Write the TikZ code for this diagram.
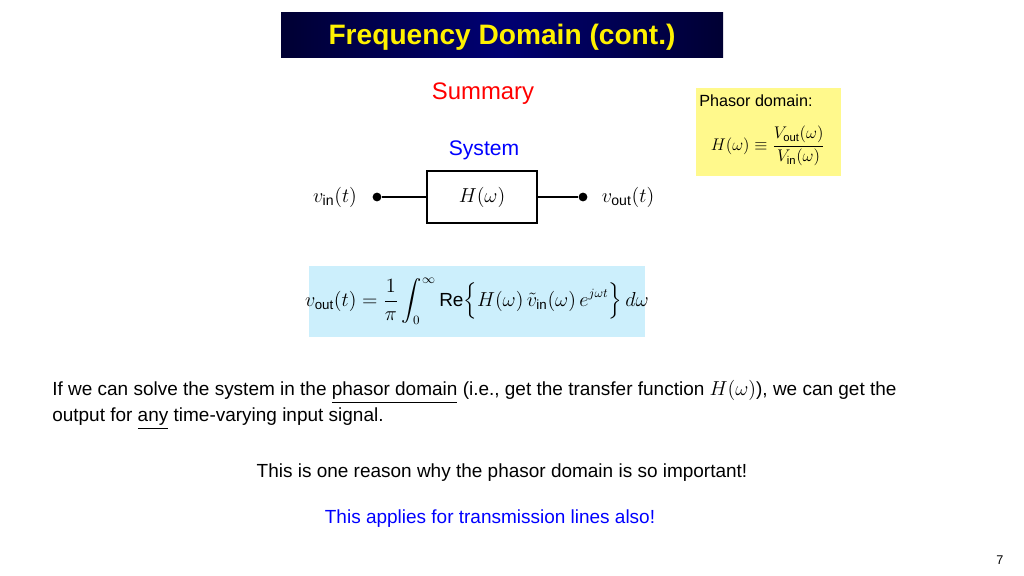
\documentclass[tikz,border=0pt]{standalone}
\usepackage{fontspec}
\setmainfont{Liberation Sans}
\usepackage{amsmath}
\begin{document}
\begin{tikzpicture}[x=0.025cm, y=-0.025cm, font=\fontsize{13.5}{16}\selectfont]
		\tikzset{box/.style={draw, thick, minimum width=2.75cm, minimum height=1.3cm},
			dot/.style={circle, fill, inner sep=0pt, minimum size=2.2mm},
			wire/.style={thick}}
		\useasboundingbox (0, 0) rectangle (1024, 576);
		\shade[left color=black!80!blue, right color=black!80!blue, middle color=blue!45!black] (281, 13) rectangle (723, 58);
		\node (title) at (502, 37) {\fontsize{20}{24}\selectfont\bfseries\color{yellow}Frequency Domain (cont.)};
		\node (summary) at (483, 94) {\fontsize{17}{20}\selectfont\color{red}Summary};
		\fill[yellow!45] (696, 88) rectangle (841, 176);
		\node[anchor=west, inner sep=0pt] (phasor) at (699, 101) {\fontsize{11.5}{13}\selectfont Phasor domain:};
		\node (ratio) at (768, 146) {\large$H(\omega)\equiv\dfrac{V_{\text{out}}(\omega)}{V_{\text{in}}(\omega)}$};
		\node (system) at (484, 150) {\fontsize{15}{18}\selectfont\color{blue}System};
		\node[box] (H) at (482, 197) {\Large$H(\omega)$};
		\node[dot] (inp) at (377, 197) {};
		\node[dot] (outp) at (583, 197) {};
		\node (vin) at (335, 197) {\Large$v_{\text{in}}(t)$};
		\node (vout) at (628, 197) {\Large$v_{\text{out}}(t)$};
		\fill[cyan!20] (309, 266) rectangle (645, 337);
		\node (eq) at (477, 301) {\fontsize{13.5}{16}\selectfont$v_{\text{out}}(t)=\dfrac{1}{\pi}\displaystyle\int_0^\infty \mathrm{Re}\Big\{H(\omega)\,\tilde v_{\text{in}}(\omega)\,e^{j\omega t}\Big\}\,d\omega$};
		\node[anchor=west, align=left, inner sep=0pt] (para) at (52, 405) {If we can solve the system in the \underline{phasor domain} (i.e., get the transfer function $H(\omega)$), we can get the\\[3pt]output for \underline{any} time-varying input signal.};
		\node (reason) at (502, 473) {This is one reason why the phasor domain is so important!};
		\node (lines) at (490, 519) {\color{blue}This applies for transmission lines also!};
		\node (page) at (1000, 560) {\fontsize{9}{11}\selectfont 7};

		\path (inp) edge[wire] (H)
		(H) edge[wire] (outp);
	\end{tikzpicture}
\end{document}
